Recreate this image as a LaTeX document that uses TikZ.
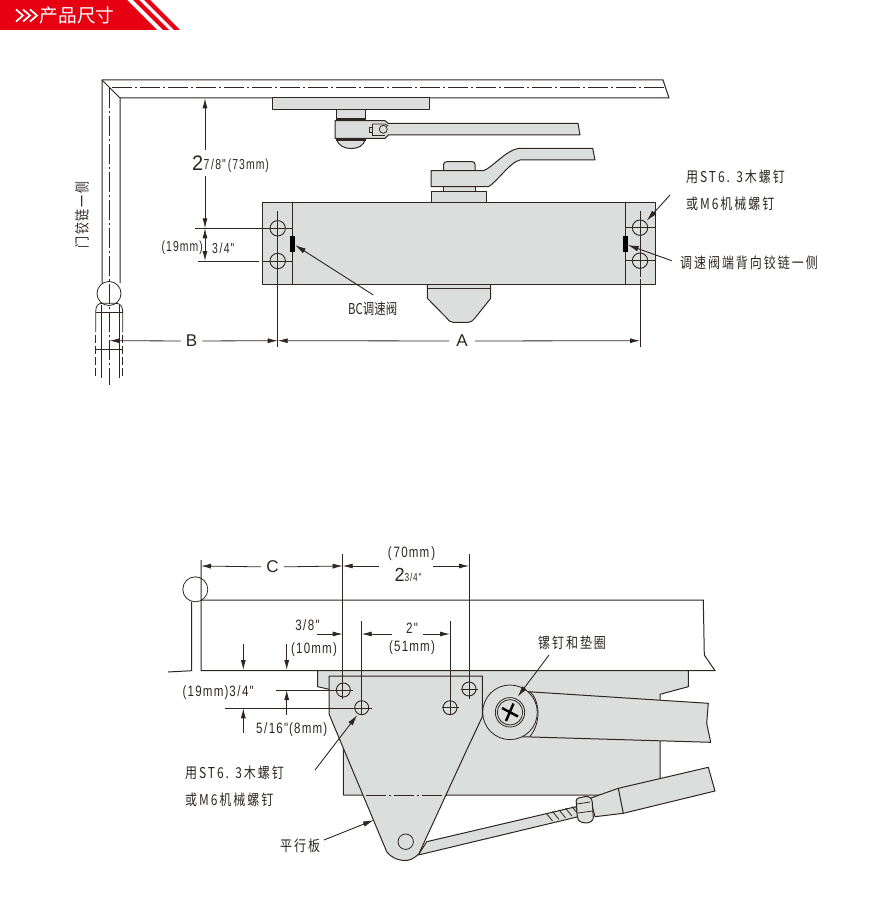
\documentclass[tikz,border=0pt]{standalone}
\usepackage{fontspec}
\usetikzlibrary{arrows.meta}
\setmainfont{Liberation Sans}
\newfontfamily\cjklabel[LetterSpace=13,FakeStretch=0.8]{Noto Sans CJK SC}
\newfontfamily\cjktight[FakeStretch=0.76]{Noto Sans CJK SC}
\newfontfamily\cjkhead{Noto Sans CJK SC}
\newfontfamily\dimlabel[FakeStretch=0.72,LetterSpace=7]{Liberation Sans}
\newfontfamily\dimwide[FakeStretch=0.77,LetterSpace=8]{Liberation Sans}
\newfontfamily\dimbig[FakeStretch=0.95]{Liberation Sans}
\newcommand\slashgap{\kern1.5pt/\kern1.5pt}
\definecolor{headred}{RGB}{230,0,18}
\definecolor{bodygrey}{RGB}{220,221,221}
\definecolor{inkline}{RGB}{45,38,35}
\tikzset{
  part/.style={draw=inkline, fill=bodygrey, line width=1pt, line join=round},
  edge/.style={draw=inkline, line width=1pt},
  thin edge/.style={draw=inkline, line width=0.8pt},
  center line/.style={draw=inkline, line width=0.8pt, dash pattern=on 20pt off 3pt on 2pt off 3pt},
  hinge dash/.style={draw=inkline, line width=0.8pt, dash pattern=on 8pt off 3pt},
  dim/.style={draw=inkline, line width=0.8pt, -{Latex[length=10pt,width=5pt]}},
  leader/.style={draw=inkline, line width=0.9pt, -{Latex[length=11pt,width=5.5pt]}},
  hole/.style={draw=inkline, line width=0.9pt},
  cjktext/.style={font=\cjklabel\fontsize{15}{15}\selectfont, text=inkline, inner sep=0pt},
  dimtext/.style={font=\dimlabel\fontsize{14.5}{15}\selectfont, text=inkline, inner sep=0pt},
  widetext/.style={font=\dimwide\fontsize{15}{15}\selectfont, text=inkline, inner sep=0pt},
  bigtext/.style={font=\dimbig\fontsize{21}{21}\selectfont, text=inkline, inner sep=0pt},
}
\begin{document}
\begin{tikzpicture}[x=1pt, y=-1pt]
  \useasboundingbox (0, 0) rectangle (890, 920);

  % banner
  \fill [headred] (0, 0) -- (127, 0) -- (157, 30) -- (0, 30) -- cycle;
  \fill [headred] (133, 0) -- (139, 0) -- (169, 30) -- (163, 30) -- cycle;
  \fill [headred] (144, 0) -- (150, 0) -- (180, 30) -- (174, 30) -- cycle;
  \foreach \i in {0, 7, 14}
    \draw [white, line width=1.7pt] (16 + \i, 9.5) -- (23 + \i, 15.5) -- (16 + \i, 21.5);
  \node (headtitle) [anchor=west, inner sep=0pt, text=white, font=\cjkhead\fontsize{18.7}{18}\selectfont] at (39.5, 15.5) {产品尺寸};

  % door frame, top view
  \draw [edge] (120, 283) -- (120, 98) -- (669, 98) -- (663, 80) -- (102, 80) -- (102, 283);
  \draw [thin edge] (102, 80) -- (120, 98);
  \draw [center line] (112, 87) -- (664, 87);
  \draw [center line] (109, 88) -- (109, 385);

  % hinge, top view
  \draw [thin edge] (109, 293.5) circle (12);
  \draw [thin edge] (95.7, 332) -- (95.7, 312) .. controls (95.7, 306) and (98, 303.3) .. (102, 303.3) -- (116, 303.3) .. controls (120, 303.3) and (122.7, 306) .. (122.7, 312) -- (122.7, 332);
  \draw [hinge dash] (95.7, 335) -- (95.7, 378);
  \draw [hinge dash] (122.7, 335) -- (122.7, 378);
  \draw [thin edge] (101.7, 305) -- (101.7, 378);
  \draw [thin edge] (119.5, 305) -- (119.5, 378);
  \draw [thin edge] (95.7, 312.3) -- (122.7, 312.3);
  \draw [thin edge] (95.7, 349) -- (122.7, 349);

  % arm on the frame
  \draw [part] (272, 98) rectangle (429, 110);
  \draw [part] (336, 110) rectangle (365.5, 119);
  \draw [part] (335, 120.7) -- (385, 120.7) -- (388.3, 123.3) -- (578, 123.3) -- (580, 135) -- (388.3, 135) -- (385, 138.3) -- (335, 138.3) -- cycle;
  \draw [part] (336.7, 139) .. controls (338, 146) and (345, 148.5) .. (351, 148.5) .. controls (358, 148.5) and (364, 146) .. (365, 139) -- cycle;
  \fill [inkline] (336, 118) rectangle (365.5, 120.7);
  \fill [inkline] (336, 138) rectangle (365.5, 140.7);
  \draw [thin edge, fill=bodygrey] (369, 127.3) rectangle (372.3, 132);
  \draw [thin edge, fill=bodygrey] (372.3, 124) -- (385, 124) -- (388.3, 126);
  \draw [thin edge] (372.3, 124) -- (372.3, 135) -- (385, 135);
  \draw [thin edge, fill=bodygrey] (383.3, 129.3) circle (4);

  % closer body, top view
  \draw [part] (443.5, 170.7) -- (443.5, 164.5) .. controls (443.5, 162.5) and (445, 161.7) .. (447, 161.7) -- (472, 161.7) .. controls (474, 161.7) and (475, 162.5) .. (475, 164.5) -- (475, 170.7) -- cycle;
  \draw [part] (443, 186) rectangle (475, 191.5);
  \draw [part] (431, 170.7) -- (483.3, 170.7) .. controls (492, 168) and (505, 151) .. (518.3, 148.3) -- (592.7, 148.3) -- (595, 160) -- (520, 160) .. controls (510, 162) and (496, 183) .. (488.3, 186.7) -- (431, 186.7) -- cycle;
  \draw [part] (431.7, 191) rectangle (486.7, 202.3);
  \draw [part] (427.3, 284) -- (427.3, 298.3) -- (446.7, 318) .. controls (448.5, 320.5) and (450, 322.3) .. (453, 322.3) -- (468.3, 322.3) .. controls (471, 322.3) and (473, 320.5) .. (475, 318) -- (490.7, 298.3) -- (490.7, 284) -- cycle;
  \draw [thin edge] (427.3, 288.3) -- (490.7, 288.3);
  \draw [part] (262.3, 202.3) rectangle (655.7, 284);
  \draw [edge] (292.3, 202.3) -- (292.3, 284);
  \draw [edge] (625, 202.3) -- (625, 284);

  % mounting holes, top view
  \coordinate (holeTL) at (277.7, 228.3);
  \coordinate (holeBL) at (277.7, 261);
  \coordinate (holeTR) at (640, 227.7);
  \coordinate (holeBR) at (640, 260.7);
  \foreach \h in {holeTL, holeBL, holeTR, holeBR}
    \draw [hole] (\h) circle (7.7);
  \draw [thin edge] (277.7, 210.7) -- (277.7, 346.5);
  \draw [thin edge] (640, 210.7) -- (640, 276.7);
  \draw [thin edge] (640, 279) -- (640, 346.5);
  \draw [thin edge] (195, 228.3) -- (292.3, 228.3);
  \draw [thin edge] (198, 261) -- (259, 261);
  \draw [thin edge] (262.5, 261) -- (292.3, 261);
  \draw [thin edge] (625, 227.7) -- (655.7, 227.7);
  \draw [thin edge] (625, 260.7) -- (655.7, 260.7);
  \fill [black] (290.3, 236) rectangle (295, 251.7);
  \fill [black] (622.7, 235.7) rectangle (627.7, 251.7);

  % dimensions, top view
  \node (dimBigA) [bigtext, anchor=west] at (192, 163) {2};
  \node (dimSevenEighths) [dimtext, anchor=west] at (203.5, 166) {7\slashgap 8"\kern2pt(73mm)};
  \coordinate (tickTopA) at (205, 98.3);
  \coordinate (tickTopB) at (205, 228.3);
  \coordinate (tickTopC) at (205, 261);
  \coordinate (gapTopA) at (205, 150);
  \coordinate (gapTopB) at (205, 176);
  \draw [dim] (gapTopA) -- (tickTopA);
  \draw [dim] (gapTopB) -- (tickTopB);
  \draw [dim, {Latex[length=10pt,width=5pt]}-{Latex[length=10pt,width=5pt]}] (tickTopB) -- (tickTopC);
  \node (dimNineteenA) [dimtext, anchor=west] at (161.5, 248) {(19mm)};
  \node (dimThreeQuarterA) [dimtext, anchor=west] at (212, 248) {3\slashgap 4"};
  \node (dimB) [inner sep=5pt, text=inkline, font=\fontsize{17}{17}\selectfont] at (191.5, 341) {B};
  \coordinate (tickHingeB) at (109.5, 340.7);
  \coordinate (tickHoleL) at (277.7, 340.7);
  \coordinate (tickHoleR) at (640, 340.7);
  \draw [dim] (dimB) -- (tickHingeB);
  \draw [dim] (dimB) -- (tickHoleL);
  \node (dimA) [inner sep=7pt, text=inkline, font=\fontsize{17}{17}\selectfont] at (462, 341) {A};
  \draw [dim] (dimA) -- (tickHoleL);
  \draw [dim] (dimA) -- (tickHoleR);

  % labels, top view
  \node (sideLabel) [cjktext, rotate=90] at (82, 215) {门铰链一侧};
  \node (valveLabel) [cjktext, anchor=west, font=\cjktight\fontsize{15}{15}\selectfont] at (348, 309) {BC调速阀};
  \node (screwLabelA) [cjktext, anchor=west] at (686, 177) {用ST6. 3木螺钉};
  \node (screwLabelB) [cjktext, anchor=west] at (686, 204) {或M6机械螺钉};
  \node (endLabel) [cjktext, anchor=west] at (680, 263) {调速阀端背向铰链一侧};
  \coordinate (valveFoot) at (373.3, 295);
  \coordinate (valveTip) at (295, 245);
  \coordinate (screwFoot) at (670, 195);
  \coordinate (screwTip) at (646.7, 220.7);
  \coordinate (endFoot) at (671.7, 260.7);
  \coordinate (endTip) at (627.7, 245);
  \draw [leader] (valveFoot) -- (valveTip);
  \draw [leader] (screwFoot) -- (screwTip);
  \draw [leader] (endFoot) -- (endTip);

  % door, front view
  \draw [thin edge] (195.3, 589.3) circle (12.5);
  \draw [edge] (168, 672) -- (191.7, 670.7) -- (191.7, 601.5);
  \draw [edge] (201, 560) -- (201, 670.7) -- (715, 670.7) -- (704.3, 655) -- (703.3, 600) -- (201, 600);

  % closer body, front view
  \draw [part] (317.7, 670.7) -- (688.3, 670.7) -- (688.3, 686.7) -- (660, 694.3) -- (660, 795) -- (343.3, 795) -- (343.3, 691) -- (336.7, 691) -- (317.7, 686.7) -- cycle;

  % lower arm
  \draw [part] (418.3, 855) -- (578.3, 816.7) -- (576, 806.7) -- (426.7, 841.7) -- cycle;
  \foreach \i in {0, 1, 2, 3, 4}
    \draw [thin edge] (546 + 6.5 * \i, 813 - 1.6 * \i) -- (552.5 + 6.5 * \i, 821 - 1.6 * \i);
  \draw [part] (590, 798.3) -- (618.3, 788.3) -- (708.3, 767.3) -- (715, 791) -- (623.3, 813.3) -- (595, 816.7) -- cycle;
  \draw [edge] (618.3, 788.3) -- (623.3, 813.3);
  \draw [part, rounded corners=2.5pt] (576, 798.5) -- (588, 796) -- (592, 799) -- (593.5, 820) -- (588, 823.3) -- (580, 822) -- (577.5, 819) -- cycle;
  \draw [thin edge] (577, 804) -- (590, 802);
  \draw [thin edge] (578, 813) -- (592.5, 811);

  % upper arm and screw
  \draw [part] (528.3, 691.7) -- (708.3, 703.3) -- (706.7, 723.3) -- (710.7, 742.3) -- (521.7, 736.7) -- cycle;
  \draw [thin edge, fill=bodygrey] (530, 691.7) .. controls (538, 698) and (543, 720) .. (530, 736.5);
  \draw [thin edge, fill=bodygrey] (510, 712.3) circle (27.3);
  \coordinate (screwCentre) at (510, 712.3);
  \draw [thin edge] (screwCentre) circle (14.7);
  \draw [thin edge] (screwCentre) circle (12.7);
  \draw [black, line width=2.4pt] (502, 708) -- (518, 716.5);
  \draw [black, line width=2.4pt] (506, 721) -- (513.5, 703.5);

  % plate
  \draw [part] (329, 676) -- (482.3, 676) -- (482.3, 716.7) -- (466.7, 750) -- (419, 853.5) .. controls (414, 859) and (409, 860.5) .. (405.5, 860.5) .. controls (397, 860.5) and (390, 856.5) .. (386.7, 851.7) -- (329, 714) -- cycle;
  \draw [thin edge] (405.7, 841.7) circle (7.7);
  \draw [center line] (365.5, 795) -- (447, 795);

  % mounting holes, front view
  \coordinate (plateHoleA) at (343.3, 690);
  \coordinate (plateHoleB) at (361.7, 707.7);
  \coordinate (plateHoleC) at (450, 707.7);
  \coordinate (plateHoleD) at (469, 689);
  \foreach \h in {plateHoleA, plateHoleB, plateHoleC, plateHoleD}
    \draw [hole] (\h) circle (7);
  \draw [thin edge] (342.7, 554) -- (342.7, 699.3);
  \draw [thin edge] (361.7, 621) -- (361.7, 715);
  \draw [thin edge] (450, 621) -- (450, 715);
  \draw [thin edge] (469, 554) -- (469, 699);
  \draw [thin edge] (275.7, 690) -- (352.7, 690);
  \draw [thin edge] (225, 708.3) -- (371.7, 708.3);
  \draw [thin edge] (441.5, 707.7) -- (458.5, 707.7);
  \draw [thin edge] (460.5, 689) -- (478, 689);

  % dimensions, front view
  \node (dimC) [inner sep=5pt, text=inkline, font=\fontsize{17}{17}\selectfont] at (272.5, 567) {C};
  \coordinate (tickDoor) at (201, 566);
  \coordinate (tickHoleA) at (342.7, 566);
  \coordinate (tickHoleD) at (469, 566);
  \coordinate (gapTwoL) at (379, 566);
  \coordinate (gapTwoR) at (433, 566);
  \draw [dim] (dimC) -- (tickDoor);
  \draw [dim] (dimC) -- (tickHoleA);
  \draw [dim] (gapTwoL) -- (tickHoleA);
  \draw [dim] (gapTwoR) -- (tickHoleD);
  \node (dimSeventy) [widetext] at (411.5, 554) {(\kern2pt 70mm\kern2pt)};
  \node (dimBigB) [bigtext, anchor=west, font=\dimbig\fontsize{19}{19}\selectfont] at (394.5, 575) {2};
  \node (dimTwoThree) [dimtext, anchor=west, font=\dimlabel\fontsize{11.5}{11}\selectfont] at (404.5, 577.5) {3/4"};

  \node (dimThreeEighths) [widetext] at (307.5, 625) {3\slashgap 8"};
  \node (dimTen) [widetext] at (314, 649.5) {(10mm)};
  \coordinate (gapEighths) at (317, 634);
  \coordinate (tickEighths) at (342.7, 634);
  \draw [dim] (gapEighths) -- (tickEighths);
  \node (dimTwo) [widetext] at (412, 628.5) {2"};
  \node (dimFiftyOne) [widetext] at (412, 647.5) {(51mm)};
  \coordinate (gapTwoA) at (391.7, 634);
  \coordinate (gapTwoB) at (423, 634);
  \coordinate (tickTwoA) at (361.7, 634);
  \coordinate (tickTwoB) at (450, 634);
  \draw [dim] (gapTwoA) -- (tickTwoA);
  \draw [dim] (gapTwoB) -- (tickTwoB);

  \node (dimNineteenB) [widetext, anchor=west] at (182.5, 693) {(19mm)\kern1pt 3\slashgap 4"};
  \node (dimFiveSixteenths) [widetext, anchor=west] at (256, 730) {5\slashgap 16"\kern1pt(8mm)};
  \coordinate (tailDownA) at (243.3, 644);
  \coordinate (tailDownB) at (286.7, 644);
  \coordinate (tipDownA) at (243.3, 670);
  \coordinate (tipDownB) at (286.7, 670);
  \coordinate (tailUpA) at (286.7, 715);
  \coordinate (tailUpB) at (243.3, 733);
  \coordinate (tipUpA) at (286.7, 690);
  \coordinate (tipUpB) at (243.3, 708.3);
  \draw [dim] (tailDownA) -- (tipDownA);
  \draw [dim] (tailDownB) -- (tipDownB);
  \draw [dim] (tailUpA) -- (tipUpA);
  \draw [dim] (tailUpB) -- (tipUpB);

  % labels, front view
  \node (washerLabel) [cjktext, anchor=west] at (538, 643) {镙钉和垫圈};
  \node (plateScrewA) [cjktext, anchor=west] at (185, 773) {用ST6. 3木螺钉};
  \node (plateScrewB) [cjktext, anchor=west] at (185, 800) {或M6机械螺钉};
  \node (plateLabel) [cjktext, anchor=west] at (280, 846) {平行板};
  \coordinate (washerFoot) at (549, 655);
  \coordinate (washerTip) at (517.7, 696.7);
  \coordinate (plateScrewFoot) at (315, 770);
  \coordinate (plateScrewTip) at (357.3, 715);
  \coordinate (plateFoot) at (324, 840);
  \coordinate (plateTip) at (374, 820);
  \draw [leader] (washerFoot) -- (washerTip);
  \draw [leader] (plateScrewFoot) -- (plateScrewTip);
  \draw [leader] (plateFoot) -- (plateTip);
\end{tikzpicture}
\end{document}
